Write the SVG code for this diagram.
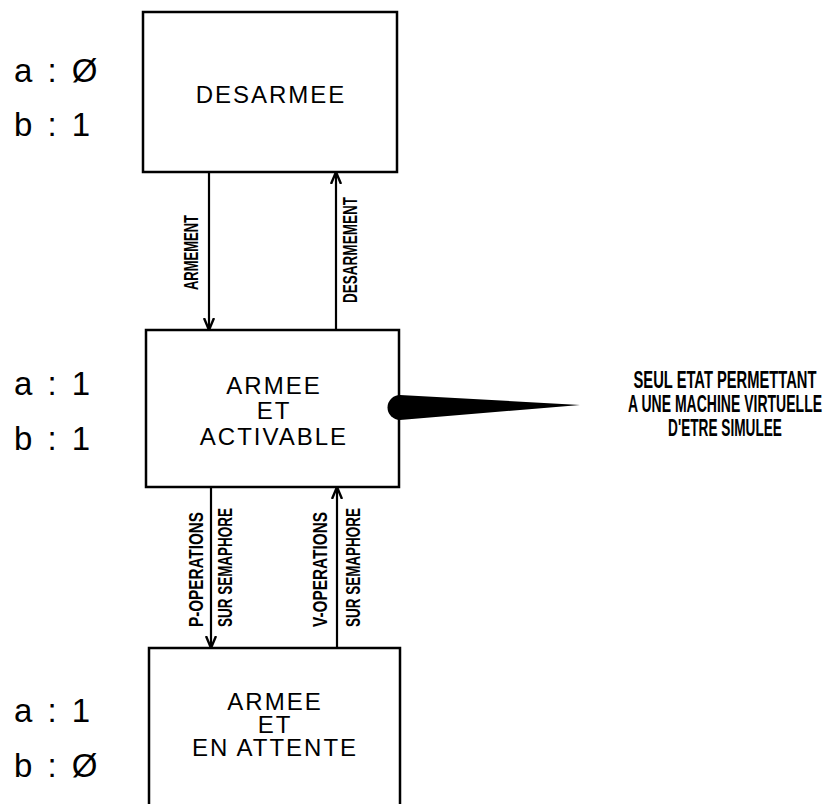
<svg xmlns="http://www.w3.org/2000/svg" width="830" height="804" viewBox="0 0 830 804">
<style>
.box{fill:#fff;stroke:#000;stroke-width:2.5}
.conn{fill:none;stroke:#000;stroke-width:2.2}
.st{font-family:"Liberation Sans",Arial,sans-serif;font-size:24px;fill:#000;text-anchor:middle;letter-spacing:2px}
.var{font-family:"Liberation Sans",Arial,sans-serif;font-size:33px;fill:#000;letter-spacing:3px}
.lbl{font-family:"Liberation Sans",Arial,sans-serif;font-weight:bold;font-size:20px;fill:#000}
.note{font-family:"Liberation Sans",Arial,sans-serif;font-weight:bold;font-size:23px;fill:#000;text-anchor:middle}
</style>
<defs>
<marker id="ah" viewBox="0 0 12 12" refX="12" refY="6" markerWidth="12" markerHeight="12" markerUnits="userSpaceOnUse" orient="auto">
<path d="M0,1 L12,6 L0,11" fill="none" stroke="#000" stroke-width="2.4"/>
</marker>
</defs>
<rect width="830" height="804" fill="#fff"/>
<g id="desarmee">
<rect class="box" x="143" y="12" width="254" height="160"/>
<text class="st" x="271" y="103">DESARMEE</text>
<text class="var" x="14" y="82">a : Ø</text>
<text class="var" x="14" y="136">b : 1</text>
</g>
<g id="armee-activable">
<rect class="box" x="146" y="330" width="253" height="157"/>
<text class="st" x="274" y="394">ARMEE</text>
<text class="st" x="274" y="419">ET</text>
<text class="st" x="274" y="445">ACTIVABLE</text>
<text class="var" x="14" y="395">a : 1</text>
<text class="var" x="14" y="450">b : 1</text>
</g>
<g id="armee-attente">
<path class="box" d="M149,810 L149,648 L400,648 L400,810"/>
<text class="st" x="275" y="710">ARMEE</text>
<text class="st" x="275" y="733">ET</text>
<text class="st" x="275" y="756">EN ATTENTE</text>
<text class="var" x="14" y="722">a : 1</text>
<text class="var" x="14" y="777">b : Ø</text>
</g>
<g id="note">
<path d="M400,395 L580,405 L400,420 A12.5,12.5 0 0 1 400,395 Z" fill="#000"/>
<g transform="translate(725,0) scale(0.59,1)">
<text class="note" x="0" y="388" textLength="310" lengthAdjust="spacingAndGlyphs">SEUL ETAT PERMETTANT</text>
<text class="note" x="0" y="412" textLength="329" lengthAdjust="spacingAndGlyphs">A UNE MACHINE VIRTUELLE</text>
<text class="note" x="0" y="436" textLength="193" lengthAdjust="spacingAndGlyphs">D'ETRE SIMULEE</text>
</g>
</g>
<g id="connectors">
<line class="conn" x1="209" y1="172" x2="209" y2="330" marker-end="url(#ah)"/>
<line class="conn" x1="336" y1="330" x2="336" y2="172" marker-end="url(#ah)"/>
<line class="conn" x1="211" y1="487" x2="211" y2="648" marker-end="url(#ah)"/>
<line class="conn" x1="337" y1="648" x2="337" y2="487" marker-end="url(#ah)"/>
<text class="lbl" transform="translate(198,290) rotate(-90)" textLength="75" lengthAdjust="spacingAndGlyphs">ARMEMENT</text>
<text class="lbl" transform="translate(357,303) rotate(-90)" textLength="106" lengthAdjust="spacingAndGlyphs">DESARMEMENT</text>
<text class="lbl" transform="translate(203,627) rotate(-90)" textLength="115" lengthAdjust="spacingAndGlyphs">P-OPERATIONS</text>
<text class="lbl" transform="translate(232,627) rotate(-90)" textLength="119" lengthAdjust="spacingAndGlyphs">SUR SEMAPHORE</text>
<text class="lbl" transform="translate(327,627) rotate(-90)" textLength="115" lengthAdjust="spacingAndGlyphs">V-OPERATIONS</text>
<text class="lbl" transform="translate(360,627) rotate(-90)" textLength="119" lengthAdjust="spacingAndGlyphs">SUR SEMAPHORE</text>
</g>
</svg>
